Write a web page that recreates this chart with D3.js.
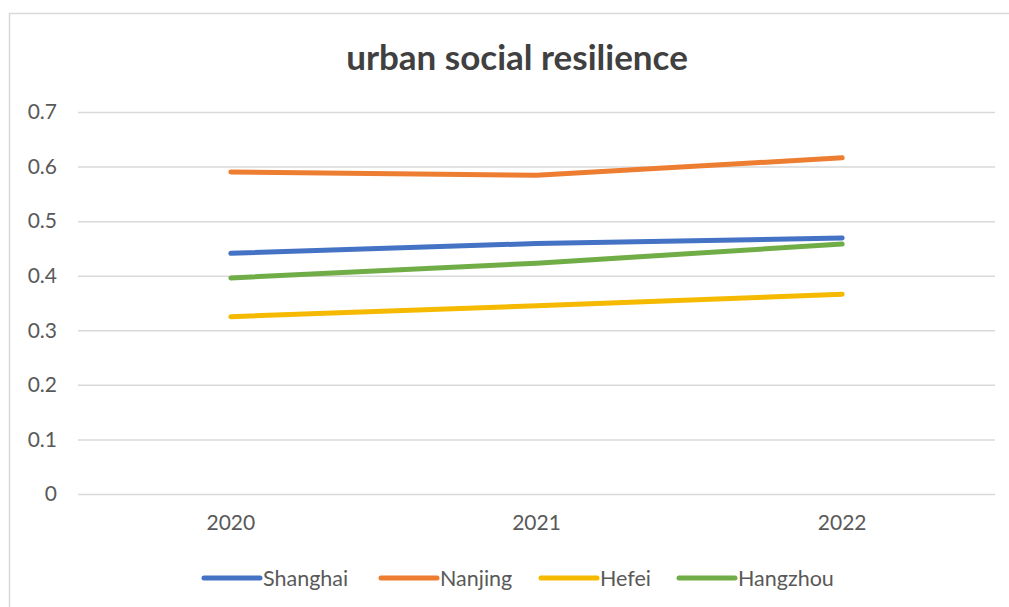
<!DOCTYPE html>
<html>
<head>
<meta charset="utf-8">
<script src="https://cdn.jsdelivr.net/npm/d3@7"></script>
<style>
  html, body { margin: 0; padding: 0; background: #fff; }
  svg { display: block; }
  text { font-family: Lato, "Open Sans", sans-serif; fill: #595959; }
</style>
</head>
<body>
<svg id="chart" width="1009" height="607"></svg>
<script>
// Chart data
const years = ["2020", "2021", "2022"];
const seriesNames = ["Shanghai", "Nanjing", "Hefei", "Hangzhou"];
const shanghai = [0.441, 0.459, 0.469];
const nanjing = [0.590, 0.584, 0.616];
const hefei = [0.325, 0.345, 0.366];
const hangzhou = [0.396, 0.423, 0.458];
const yTicks = [0, 0.1, 0.2, 0.3, 0.4, 0.5, 0.6, 0.7];
const colors = ["#4472C4", "#ED7D31", "#F5BA00", "#70AD47"];

const series = [shanghai, nanjing, hefei, hangzhou].map((vals, i) => ({
  name: seriesNames[i], values: vals, color: colors[i]
}));

const svg = d3.select("#chart");

// Outer chart frame
svg.append("rect")
  .attr("x", 9.5).attr("y", 13.5)
  .attr("width", 1020).attr("height", 620)
  .attr("fill", "#fff").attr("stroke", "#D9D9D9").attr("stroke-width", 1.5);

const plot = { left: 78, right: 995, top: 112, bottom: 494 };

const x = d3.scaleBand().domain(years).range([plot.left, plot.right]);
const y = d3.scaleLinear().domain([0, 0.7]).range([plot.bottom, plot.top]);

// Title
svg.append("text")
  .attr("x", 517).attr("y", 70)
  .attr("text-anchor", "middle")
  .style("font-size", "35px").style("font-weight", "bold")
  .style("fill", "#404040")
  .text("urban social resilience");

// Gridlines + y labels via axis
const yAxis = d3.axisLeft(y)
  .tickValues(yTicks)
  .tickSize(-(plot.right - plot.left))
  .tickPadding(21)
  .tickFormat(d => d === 0 ? "0" : d3.format(".1f")(d));

const gy = svg.append("g")
  .attr("transform", `translate(${plot.left},0)`)
  .call(yAxis);
gy.select(".domain").remove();
gy.selectAll(".tick line").attr("stroke", "#D9D9D9").attr("stroke-width", 1.5);
gy.selectAll(".tick text")
  .style("font-size", "21px")
  .style("font-family", "Lato, 'Open Sans', sans-serif")
  .attr("fill", "#595959");

// x labels
const xAxis = d3.axisBottom(x).tickSize(0).tickPadding(21);
const gx = svg.append("g")
  .attr("transform", `translate(0,${plot.bottom})`)
  .call(xAxis);
gx.select(".domain").remove();
gx.selectAll(".tick text")
  .style("font-size", "21px")
  .style("font-family", "Lato, 'Open Sans', sans-serif")
  .attr("fill", "#595959");

// Lines
const line = d3.line()
  .x((d, i) => x(years[i]) + x.bandwidth() / 2)
  .y(d => y(d));

svg.append("g").selectAll("path")
  .data(series)
  .join("path")
  .attr("d", d => line(d.values))
  .attr("fill", "none")
  .attr("stroke", d => d.color)
  .attr("stroke-width", 5)
  .attr("stroke-linecap", "round")
  .attr("stroke-linejoin", "round");

// Legend
const legendX = [204, 381, 541, 679];
const legendY = 578;
const lg = svg.append("g").selectAll("g")
  .data(series)
  .join("g")
  .attr("transform", (d, i) => `translate(${legendX[i]},${legendY})`);
lg.append("line")
  .attr("x1", 0).attr("x2", 56)
  .attr("y1", 0).attr("y2", 0)
  .attr("stroke", d => d.color)
  .attr("stroke-width", 5)
  .attr("stroke-linecap", "round");
lg.append("text")
  .attr("x", 59).attr("y", 7.5)
  .style("font-size", "21.5px")
  .text(d => d.name);
</script>
</body>
</html>
